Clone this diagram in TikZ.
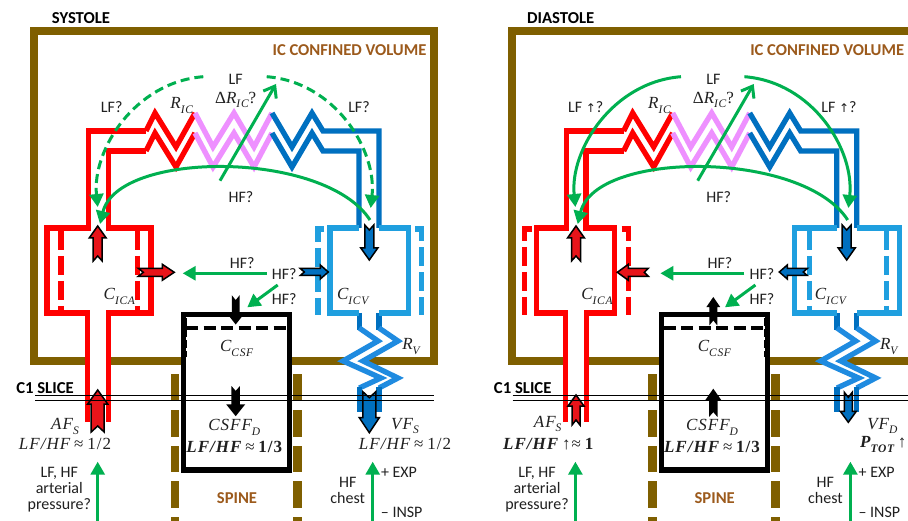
\documentclass[tikz,border=0pt]{standalone}
\usepackage{fontspec}
\setmainfont{Carlito}
\newfontfamily\mf[LetterSpace=6]{Liberation Serif}
\newfontfamily\arrf{DejaVu Sans}
\usetikzlibrary{arrows.meta}
\definecolor{brownbox}{HTML}{7F5F00}
\definecolor{brownt}{HTML}{9C5A1C}
\definecolor{redc}{HTML}{FF0000}
\definecolor{redf}{HTML}{E8141A}
\definecolor{pinkc}{HTML}{EE90FF}
\definecolor{darkb}{HTML}{0070C0}
\definecolor{lightb}{HTML}{1F9FDF}
\definecolor{zigb}{HTML}{1F8BE0}
\definecolor{greenc}{HTML}{00B050}
\definecolor{txtc}{HTML}{202020}
\tikzset{
  wall/.style={line width=5.3pt,line join=miter},
  wallred/.style={wall,draw=redc},
  wallpink/.style={wall,draw=pinkc},
  walldark/.style={wall,draw=darkb},
  walllight/.style={wall,draw=lightb},
  wallzig/.style={wall,draw=zigb},
  dashwall/.style={dash pattern=on 19pt off 6pt},
  fatline/.style={draw=black,line width=1.5pt,line join=miter},
  greenline/.style={draw=greenc,line width=3pt},
  greendash/.style={greenline,dash pattern=on 9pt off 5pt},
  tipg/.style={-{Triangle[length=13pt,width=14pt]}},
  tipo/.style={-{Straight Barb[length=10pt,width=15pt]}},
  txt/.style={font=\fontsize{16}{16}\selectfont,inner sep=0pt,align=center,text=txtc},
  mth/.style={font=\fontsize{17}{17}\selectfont,inner sep=0pt,align=center,text=txtc},
  heading/.style={font=\fontsize{16.7}{17}\selectfont\bfseries,inner sep=0pt,text=black},
  browntxt/.style={font=\fontsize{16.6}{17}\selectfont\bfseries,inner sep=0pt,text=brownt},
}
\newcommand\mt[1]{{\mf\itshape #1}}
\newcommand\mtb[1]{{\mf\bfseries\itshape #1}}
\newcommand\upm[1]{{\mf #1}}
\newcommand\sbs[1]{\raisebox{-.28em}{\fontsize{11.5}{11.5}\selectfont #1}}
% colour, x, y, rotation, length, head half-width, shaft half-width, head length, notch
\newcommand\fatarr[9]{\begin{scope}[shift={(#2,#3)},rotate=#4]
  \draw[fatline,fill=#1] (0,0)--(#6,#8)--(#7,#8)--(#7,#5)--(0,#5-#9)--(-#7,#5)--(-#7,#8)--(-#6,#8)--cycle;
\end{scope}}
\newcommand\panelunder{%
  \draw[brownbox,line width=8.4pt] (34,31) rectangle (434,361);
  \fill[white] (89,355) rectangle (107,367);
  \foreach \sx in {175,297.5}{
    \foreach \sy in {374.3,410,445.7,481.3,517}{
      \fill[brownbox] (\sx-4.3,\sy) rectangle (\sx+4.3,\sy+26.5);
    }
  }
  \fill[white] (359,330)--(378,341)--(343,361)--(381,378)--(359,388)--(359,412)--(379,412)--(379,388)--(398,378)--(363,361)--(398,341)--(379,330)--cycle;
  \draw[wallred] (146,131)--(155,113)--(176,147)--(195,113);
  \draw[wallred] (195,133)--(176,167)--(155,133)--(146,151);
  \draw[wallpink] (195,113)--(213,147)--(234,113)--(254,147)--(272,113);
  \draw[wallpink] (195,133)--(213,167)--(234,133)--(254,167)--(272,133);
  \draw[walldark] (272,113)--(292,147)--(312,113)--(323,131)--(379,131)--(379,228);
  \draw[walldark] (272,133)--(292,167)--(312,133)--(323,151)--(359,151)--(359,228);
  \draw[walldark] (359.3,313)--(359.3,330);
  \draw[walldark] (379,313)--(379,330);
  \draw[wallzig] (359.3,328)--(378,341)--(343,361)--(381,378)--(359.3,388);
  \draw[wallzig] (379,328)--(398,341)--(363,361)--(398,378)--(379,388);
  \draw[walldark] (359.3,387)--(359.3,412);
  \draw[walldark] (379,387)--(379,412);
  \draw[line width=5.3pt,fill=white] (183.5,314.5) rectangle (289.8,470);
  \draw[line width=3.8pt,dash pattern=on 12pt off 5.5pt] (186,327.7)--(287,327.7);
}
\newcommand\panelover[1]{%
  \coordinate (lfa#1) at (203.3,76.7);
  \coordinate (lfl#1) at (97.7,207);
  \coordinate (lfb#1) at (266.7,76.7);
  \coordinate (lfr#1) at (370.7,208);
  \coordinate (hfa#1) at (370,220);
  \coordinate (hfb#1) at (100,224);
  \coordinate (dra#1) at (220,180.7);
  \coordinate (drb#1) at (276,84);
  \coordinate (apa#1) at (97.7,523);
  \coordinate (apb#1) at (97.7,461.7);
  \coordinate (cha#1) at (372.7,523);
  \coordinate (chb#1) at (372.7,461.7);
  \draw[greenline,tipg] (hfa#1) .. controls (325,150) and (118,150) .. (hfb#1);
  \draw[greenline,tipo] (dra#1) -- (drb#1);
  \draw[greenline,tipg] (apa#1) -- (apb#1);
  \draw[greenline,tipg] (cha#1) -- (chb#1);
  \draw[black,line width=.9pt] (35,395.7)--(433.5,395.7);
  \draw[black,line width=.9pt] (35,400)--(433.5,400);
  \node[browntxt] (icv#1) at (349.5,50) {IC CONFINED VOLUME};
  \node[txt] (lft#1) at (235.7,79) {LF};
  \node[mth] (dr#1) at (235.7,100) {\upm{Δ}\mt{R}\sbs{\mt{IC}}\upm{?}};
  \node[mth] (ric#1) at (181.7,105.7) {\mt{R}\sbs{\mt{IC}}};
  \node[txt] (hft#1) at (241,197) {HF?};
  \node[txt] (hfm#1) at (242.3,263) {HF?};
  \node[txt] (hfc#1) at (284.3,274) {HF?};
  \node[txt] (hfd#1) at (284.3,299.3) {HF?};
  \coordinate (hcb#1) at (182.7,273.3);
  \coordinate (hdb#1) at (247.3,307.3);
  \coordinate (hca#1) at (266.7,273.3);
  \coordinate (hda#1) at (277.7,285);
  \draw[greenline,tipg] (hca#1) -- (hcb#1);
  \draw[greenline,tipg] (hda#1) -- (hdb#1);
  \node[mth] (cica#1) at (119.3,296.7) {\mt{C}\sbs{\mt{ICA}}};
  \node[mth] (cicv#1) at (352.7,296.7) {\mt{C}\sbs{\mt{ICV}}};
  \node[mth] (ccsf#1) at (236.7,348.3) {\mt{C}\sbs{\mt{CSF}}};
  \node[mth] (rv#1) at (411,346.7) {\mt{R}\sbs{\mt{V}}};
  \node[heading] (c1#1) at (45,388.3) {C1 SLICE};
  \node[mth] (csff#1) at (234.3,427.7) {\mt{CSFF}\sbs{\mt{D}}};
  \node[mth] (csfr#1) at (234.3,447.3) {\mtb{LF/HF} {\mf ≈} \mtb{\upshape 1/3}};
  \node[txt] (art#1) at (59.3,489.3) {LF, HF\\arterial\\pressure?};
  \node[txt] (chest#1) at (347.7,490) {HF\\chest};
  \node[txt] (exp#1) at (399,472) {+ EXP};
  \node[txt] (insp#1) at (401.7,512.3) {– INSP};
  \node[browntxt] (spine#1) at (237,498) {SPINE};
}
\begin{document}
\begin{tikzpicture}[x=1pt,y=-1pt]
\path[use as bounding box] (0,0) rectangle (908,521);
\clip (0,0) rectangle (908,521);
\fill[white] (0,0) rectangle (908,521);
% ---------- SYSTOLE ----------
\panelunder
\draw[wallred] (87.5,422)--(87.5,313)--(47,313)--(47,228)--(88.5,228)--(88.5,131)--(146,131);
\draw[wallred] (146,151)--(108.3,151)--(108.3,228)--(151,228)--(151,313)--(108.5,313)--(108.5,422);
\draw[wallred,dashwall] (61,231)--(61,311);
\draw[wallred,dashwall] (137.5,231)--(137.5,311);
\draw[walllight] (359.3,313)--(330,313)--(330,228)--(359.3,228);
\draw[walllight] (379,228)--(408.3,228)--(408.3,313)--(379,313);
\draw[walllight,dashwall] (324,229)--(318,229)--(318,315);
\draw[walllight,dashwall] (415,229)--(421.7,229)--(421.7,315);
\draw[line width=1.6pt,dash pattern=on 8pt off 3pt] (186,318)--(186,357);
\fatarr{redf}{97.7}{226}{0}{35}{8.5}{4.5}{12}{5}
\fatarr{redf}{174.3}{272.3}{-90}{36}{8}{4}{12}{5}
\fatarr{darkb}{328.3}{272}{-90}{28}{7}{3.5}{8}{4}
\fatarr{darkb}{369.3}{260}{180}{35}{8.5}{4.5}{12}{5}
\fatarr{black}{235.7}{323.3}{180}{26}{5.5}{3.2}{7}{4}
\fatarr{black}{235.7}{415}{180}{27}{8}{3.5}{10}{4}
\fatarr{redf}{97.7}{390}{0}{42}{10}{6.5}{14}{6}
\fatarr{darkb}{369.3}{432.7}{180}{41}{10}{6.5}{15}{6}
\panelover{1}
\draw[greendash,tipg] (lfa1) .. controls (135,82) and (92,150) .. (lfl1);
\draw[greendash,tipg] (lfb1) .. controls (335,82) and (377,150) .. (lfr1);
\node[heading] (sys) at (81,18) {SYSTOLE};
\node[txt] (lfql) at (111.7,107) {LF?};
\node[txt] (lfqr) at (359,107) {LF?};
\node[mth] (afs) at (65,426.7) {\mt{AF}\sbs{\mt{S}}};
\node[mth] (afr) at (65,444.3) {\mt{LF/HF} {\mf ≈} {\mf 1/2}};
\node[mth] (vfs) at (405,426) {\mt{VF}\sbs{\mt{S}}};
\node[mth] (vfr) at (405,444.3) {\mt{LF/HF} {\mf ≈} {\mf 1/2}};
% ---------- DIASTOLE ----------
\begin{scope}[shift={(477.7,0)}]
\panelunder
\draw[wallred] (87.5,422)--(87.5,313)--(59,313)--(59,228)--(88.5,228)--(88.5,131)--(146,131);
\draw[wallred] (146,151)--(108.3,151)--(108.3,228)--(137,228)--(137,313)--(108.5,313)--(108.5,422);
\draw[wallred,dashwall] (54,229)--(47,229)--(47,315);
\draw[wallred,dashwall] (144,229)--(151,229)--(151,315);
\draw[walllight] (359.3,313)--(317,313)--(317,228)--(359.3,228);
\draw[walllight] (379,228)--(422,228)--(422,313)--(379,313);
\draw[walllight,dashwall] (331.5,231)--(331.5,311);
\draw[walllight,dashwall] (408.5,231)--(408.5,311);
\draw[line width=1.6pt,dash pattern=on 8pt off 3pt] (287,318)--(287,357);
\fatarr{redf}{98.3}{226}{0}{35}{8.5}{4.5}{12}{5}
\fatarr{redf}{139.6}{272.3}{90}{31}{8}{4}{11}{4}
\fatarr{darkb}{301.6}{272}{90}{28}{7}{3.5}{8}{4}
\fatarr{darkb}{369}{260}{180}{35}{8.5}{4.5}{12}{5}
\fatarr{black}{235.6}{298.3}{0}{25}{5.5}{3.2}{8}{4}
\fatarr{black}{235.6}{390}{0}{25}{7}{3.5}{10}{4}
\fatarr{redf}{98.3}{395}{0}{30}{8}{4}{11}{5}
\fatarr{darkb}{370.6}{422.3}{180}{30}{8}{4}{11}{5}
\panelover{2}
\draw[greenline,tipg] (lfa2) .. controls (135,82) and (92,150) .. (lfl2);
\draw[greenline,tipg] (lfb2) .. controls (335,82) and (377,150) .. (lfr2);
\node[heading] (dia) at (83,18) {DIASTOLE};
\node[txt] (lfqld) at (108,107) {LF {\arrf\fontsize{12}{12}\selectfont ↑}?};
\node[txt] (lfqrd) at (361.3,107) {LF {\arrf\fontsize{12}{12}\selectfont ↑}?};
\node[mth] (afsd) at (70,424) {\mt{AF}\sbs{\mt{S}}};
\node[mth] (afrd) at (70.6,444.3) {\mtb{LF/HF} {\mf ↑≈} \mtb{\upshape 1}};
\node[mth] (vfd) at (404.6,426) {\mt{VF}\sbs{\mt{D}}};
\node[mth] (ptot) at (405.6,444.3) {\mtb{P}\sbs{\mtb{TOT}} {\mf ↑}};
\end{scope}
\end{tikzpicture}
\end{document}
